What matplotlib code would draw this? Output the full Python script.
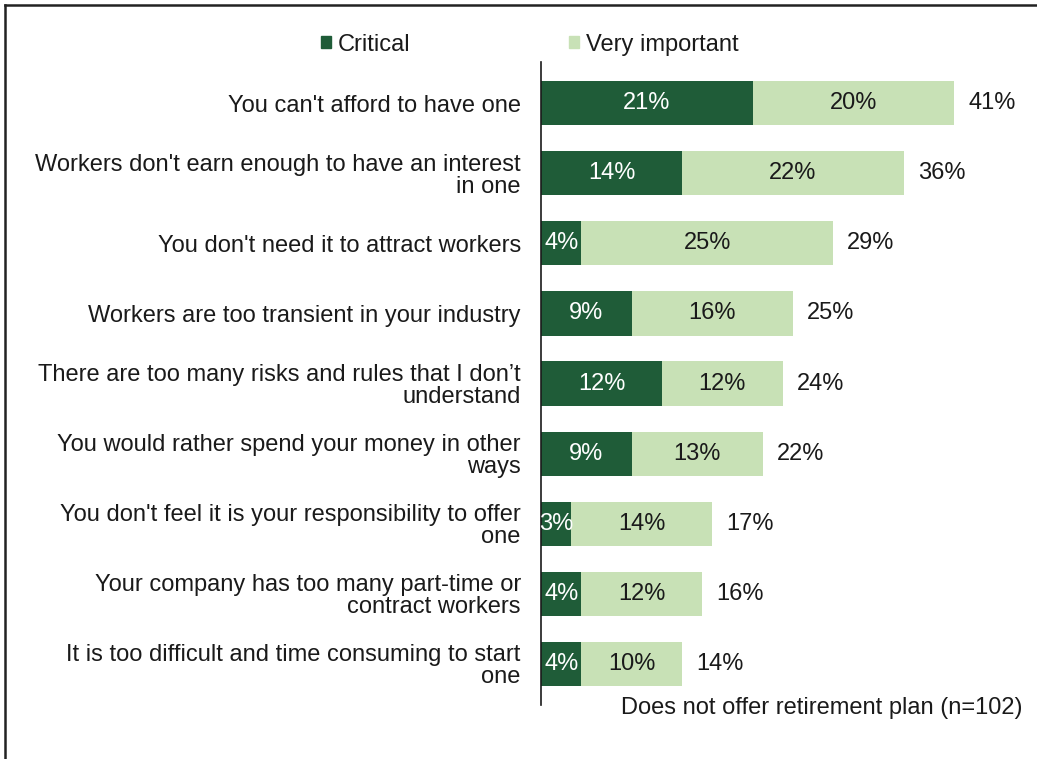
import matplotlib.pyplot as plt
from matplotlib.lines import Line2D
from matplotlib.patches import Patch

plt.rcParams['font.family'] = ['Liberation Sans', 'DejaVu Sans']

reasons = [
    "You can't afford to have one",
    "Workers don't earn enough to have an interest\nin one",
    "You don't need it to attract workers",
    "Workers are too transient in your industry",
    "There are too many risks and rules that I don\u2019t\nunderstand",
    "You would rather spend your money in other\nways",
    "You don't feel it is your responsibility to offer\none",
    "Your company has too many part-time or\ncontract workers",
    "It is too difficult and time consuming to start\none",
]
critical = [21, 14, 4, 9, 12, 9, 3, 4, 4]
very_important = [20, 22, 25, 16, 12, 13, 14, 12, 10]
totals = [41, 36, 29, 25, 24, 22, 17, 16, 14]

dark = '#1f5c38'
light = '#c8e1b6'
txt = '#1a1a1a'
fs = 17

fig = plt.figure(figsize=(10.37, 7.59), dpi=100)
ax = fig.add_axes([0.5217, 0.0711, 0.4615, 0.8472])

y = list(range(len(reasons)))
ax.barh(y, critical, height=0.63, color=dark)
ax.barh(y, very_important, left=critical, height=0.63, color=light)

for i in y:
    ax.text(critical[i] / 2, i, f'{critical[i]}%', ha='center', va='center',
            color='white', fontsize=fs)
    ax.text(critical[i] + very_important[i] / 2, i, f'{very_important[i]}%',
            ha='center', va='center', color=txt, fontsize=fs)
    ax.text(critical[i] + very_important[i] + 1.4, i, f'{totals[i]}%',
            ha='left', va='center', color=txt, fontsize=fs)

ax.set_xlim(0, 47.5)
ax.set_ylim(8.59, -0.59)
ax.set_yticks(y)
ax.set_yticklabels(reasons, fontsize=fs, color=txt, ha='right',
                   multialignment='right', linespacing=1.0)
ax.tick_params(axis='y', length=0, pad=14.5)
ax.set_xticks([])
for s in ['top', 'right', 'bottom']:
    ax.spines[s].set_visible(False)
ax.spines['left'].set_color(txt)
ax.spines['left'].set_linewidth(1.2)

handles = [Patch(color=dark, label='Critical'), Patch(color=light, label='Very important')]
fig.legend(handles=handles, ncol=2, loc='center', bbox_to_anchor=(0.511, 0.941),
           frameon=False, fontsize=fs, handlelength=0.42, handleheight=0.42,
           handletextpad=0.3, columnspacing=6.7, labelcolor=txt)

fig.text(0.986, 0.067, 'Does not offer retirement plan (n=102)', ha='right', va='center',
         fontsize=fs, color=txt)

# frame lines along the top and left edge
fig.add_artist(Line2D([0.005, 1.0], [0.993, 0.993], color='#222222', lw=1.8))
fig.add_artist(Line2D([0.005, 0.005], [0.0, 0.993], color='#222222', lw=1.8))

fig.savefig('out.png', dpi=100)
